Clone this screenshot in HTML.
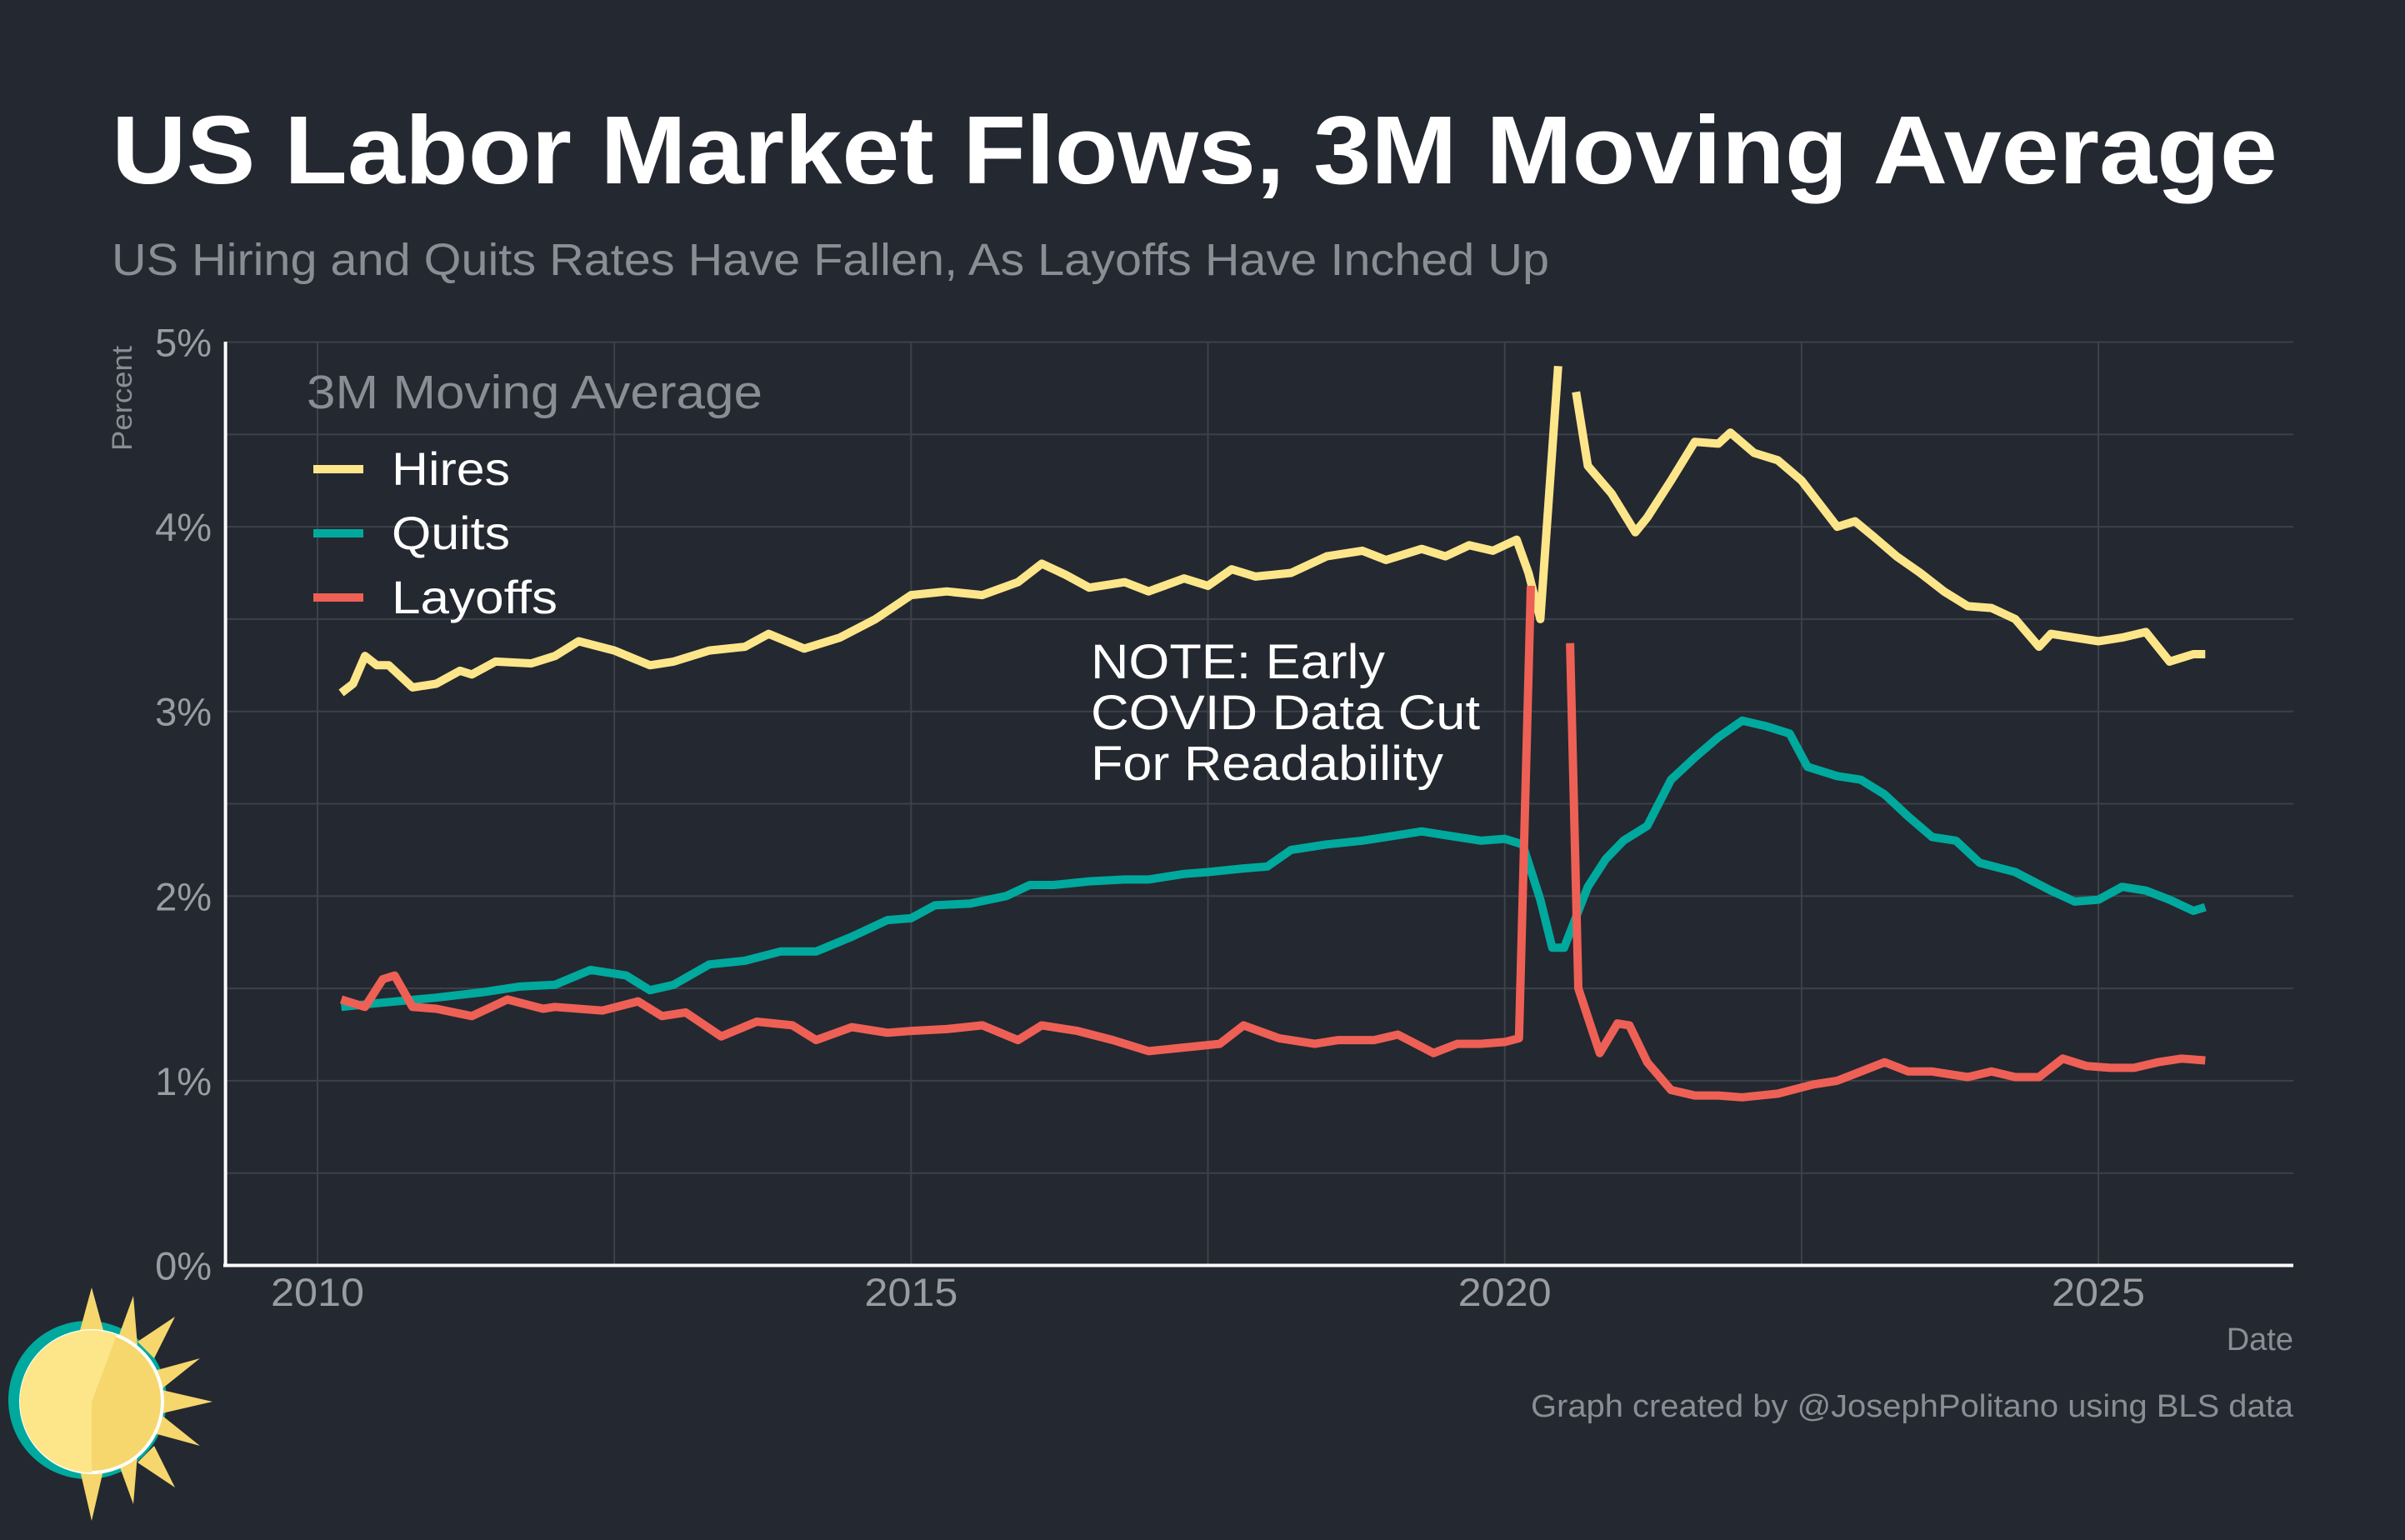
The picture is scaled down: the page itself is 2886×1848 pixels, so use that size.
<!DOCTYPE html>
<html><head><meta charset="utf-8">
<style>
html,body{margin:0;padding:0;background:#242830;}
body{width:2886px;height:1843px;overflow:hidden;font-family:"Liberation Sans",sans-serif;}
</style></head>
<body>
<svg id="chart" width="2886" height="1843" viewBox="0 0 2886 1843" xmlns="http://www.w3.org/2000/svg" font-family="Liberation Sans, sans-serif">
<rect width="2886" height="1843" fill="#242830"/>
<text x="134" y="220" font-size="116" font-weight="bold" fill="#ffffff" textLength="2599" lengthAdjust="spacingAndGlyphs">US Labor Market Flows, 3M Moving Average</text>
<text x="134" y="330" font-size="54" fill="#8a8d94" textLength="1725" lengthAdjust="spacingAndGlyphs">US Hiring and Quits Rates Have Fallen, As Layoffs Have Inched Up</text>
<g id="grid"></g>
<g id="ticks"></g>
<g id="series"></g>
<line x1="270.6" y1="410" x2="270.6" y2="1520" stroke="#ffffff" stroke-width="4"/>
<line x1="268" y1="1518.5" x2="2752" y2="1518.5" stroke="#ffffff" stroke-width="4"/>
<text transform="translate(158,478) rotate(-90)" text-anchor="middle" font-size="34" fill="#8a8d94" textLength="126" lengthAdjust="spacingAndGlyphs">Percent</text>
<text x="2752" y="1620" text-anchor="end" font-size="38" fill="#8a8d94">Date</text>
<text x="2752" y="1700" text-anchor="end" font-size="38" fill="#8a8d94" textLength="915" lengthAdjust="spacingAndGlyphs">Graph created by @JosephPolitano using BLS data</text>
<g>
<text x="368" y="490" font-size="57" fill="#8a8d94" textLength="547" lengthAdjust="spacingAndGlyphs">3M Moving Average</text>
<line x1="376" y1="563" x2="436" y2="563" stroke="#fde68a" stroke-width="10"/>
<text x="470" y="582" font-size="56" fill="#ffffff" textLength="142" lengthAdjust="spacingAndGlyphs">Hires</text>
<line x1="376" y1="640" x2="436" y2="640" stroke="#00a99d" stroke-width="10"/>
<text x="470" y="659" font-size="56" fill="#ffffff" textLength="142" lengthAdjust="spacingAndGlyphs">Quits</text>
<line x1="376" y1="717" x2="436" y2="717" stroke="#ee6055" stroke-width="10"/>
<text x="470" y="736" font-size="56" fill="#ffffff" textLength="199" lengthAdjust="spacingAndGlyphs">Layoffs</text>
</g>
<g font-size="58" fill="#ffffff">
<text x="1309" y="814" textLength="353" lengthAdjust="spacingAndGlyphs">NOTE: Early</text>
<text x="1309" y="875" textLength="467" lengthAdjust="spacingAndGlyphs">COVID Data Cut</text>
<text x="1309" y="936" textLength="423" lengthAdjust="spacingAndGlyphs">For Readability</text>
</g>
<g>
<circle cx="105" cy="1680" r="95" fill="#00a99d"/>
<g fill="#f5d76e">
<polygon points="110,1545 125,1600 95,1600"/>
<polygon points="110,1825 125,1760 95,1760"/>
<polygon points="255,1682 190,1667 190,1697"/>
<polygon points="210,1580 165,1610 185,1630"/>
<polygon points="210,1785 165,1755 185,1735"/>
<polygon points="160,1555 140,1610 165,1615"/>
<polygon points="160,1805 140,1750 165,1745"/>
<polygon points="240,1630 185,1645 190,1670"/>
<polygon points="240,1735 185,1720 190,1695"/>
</g>
<circle cx="110" cy="1682" r="85" fill="#f5d76e" stroke="#ffffff" stroke-width="4"/>
<path d="M110,1682 L140,1602 A85,85 0 0,0 35,1640 Z" fill="#fde68a"/>
<path d="M110,1682 L35,1640 A85,85 0 0,0 110,1767 Z" fill="#fde68a"/>
</g>
</svg>
<script>
const yTicks = [0,1,2,3,4,5];
const yTickLabels = ["0%","1%","2%","3%","4%","5%"];
const xTicks = [2010,2015,2020,2025];
const xTickLabels = ["2010","2015","2020","2025"];
const hiresDates = [2010.2,2010.3,2010.4,2010.5,2010.6,2010.8,2011.0,2011.2,2011.3,2011.5,2011.8,2012.0,2012.2,2012.5,2012.8,2013.0,2013.3,2013.6,2013.8,2014.1,2014.4,2014.7,2015.0,2015.3,2015.6,2015.9,2016.1,2016.3,2016.5,2016.8,2017.0,2017.3,2017.5,2017.7,2017.9,2018.2,2018.5,2018.8,2019.0,2019.3,2019.5,2019.7,2019.9,2020.1,2020.2,2020.3,2020.45,2020.52,2020.6,2020.7,2020.9,2021.1,2021.2,2021.4,2021.6,2021.8,2021.9,2022.1,2022.3,2022.5,2022.8,2022.95,2023.1,2023.3,2023.5,2023.7,2023.9,2024.1,2024.3,2024.5,2024.6,2024.8,2025.0,2025.2,2025.4,2025.6,2025.8,2025.9];
const hiresValues = [3.1,3.15,3.3,3.25,3.25,3.13,3.15,3.22,3.2,3.27,3.26,3.3,3.38,3.33,3.25,3.27,3.33,3.35,3.42,3.34,3.4,3.5,3.63,3.65,3.63,3.7,3.8,3.74,3.67,3.7,3.65,3.72,3.68,3.77,3.73,3.75,3.84,3.87,3.82,3.88,3.84,3.9,3.87,3.93,3.75,3.5,4.87,null,4.73,4.33,4.18,3.97,4.05,4.25,4.46,4.45,4.51,4.4,4.36,4.25,4.0,4.03,3.95,3.84,3.75,3.65,3.57,3.56,3.5,3.35,3.42,3.4,3.38,3.4,3.43,3.27,3.31,3.31];
const quitsDates = [2010.2,2010.5,2011.0,2011.4,2011.7,2012.0,2012.3,2012.6,2012.8,2013.0,2013.3,2013.6,2013.9,2014.2,2014.5,2014.8,2015.0,2015.2,2015.5,2015.8,2016.0,2016.2,2016.5,2016.8,2017.0,2017.3,2017.5,2017.8,2018.0,2018.2,2018.5,2018.8,2019.0,2019.3,2019.5,2019.8,2020.0,2020.15,2020.3,2020.4,2020.5,2020.7,2020.85,2021.0,2021.2,2021.4,2021.6,2021.8,2022.0,2022.2,2022.4,2022.55,2022.8,2023.0,2023.2,2023.4,2023.6,2023.8,2024.0,2024.3,2024.6,2024.8,2025.0,2025.2,2025.4,2025.6,2025.8,2025.9];
const quitsValues = [1.4,1.42,1.45,1.48,1.51,1.52,1.6,1.57,1.49,1.52,1.63,1.65,1.7,1.7,1.78,1.87,1.88,1.95,1.96,2.0,2.06,2.06,2.08,2.09,2.09,2.12,2.13,2.15,2.16,2.25,2.28,2.3,2.32,2.35,2.33,2.3,2.31,2.28,1.98,1.72,1.72,2.05,2.2,2.3,2.38,2.63,2.75,2.86,2.95,2.92,2.88,2.7,2.65,2.63,2.55,2.43,2.32,2.3,2.18,2.13,2.03,1.97,1.98,2.05,2.03,1.98,1.92,1.94];
const layoffsDates = [2010.2,2010.4,2010.55,2010.65,2010.8,2011.0,2011.3,2011.6,2011.9,2012.0,2012.4,2012.7,2012.9,2013.1,2013.4,2013.7,2014.0,2014.2,2014.5,2014.8,2015.0,2015.3,2015.6,2015.9,2016.1,2016.4,2016.7,2017.0,2017.3,2017.6,2017.8,2018.1,2018.4,2018.6,2018.9,2019.1,2019.4,2019.6,2019.8,2020.0,2020.12,2020.22,2020.4,2020.55,2020.62,2020.8,2020.95,2021.05,2021.2,2021.4,2021.6,2021.8,2022.0,2022.3,2022.6,2022.8,2023.0,2023.2,2023.4,2023.6,2023.9,2024.1,2024.3,2024.5,2024.7,2024.9,2025.1,2025.3,2025.5,2025.7,2025.9];
const layoffsValues = [1.44,1.4,1.55,1.57,1.4,1.39,1.35,1.44,1.39,1.4,1.38,1.43,1.35,1.37,1.24,1.32,1.3,1.22,1.29,1.26,1.27,1.28,1.3,1.22,1.3,1.27,1.22,1.16,1.18,1.2,1.3,1.23,1.2,1.22,1.22,1.25,1.15,1.2,1.2,1.21,1.23,3.68,null,3.37,1.5,1.15,1.31,1.3,1.1,0.95,0.92,0.92,0.91,0.93,0.98,1.0,1.05,1.1,1.05,1.05,1.02,1.05,1.02,1.02,1.12,1.08,1.07,1.07,1.1,1.12,1.11];

const X0 = 381, XPY = 142.47, Y0 = 1518.5, YPU = 221.6;
const xScale = d => X0 + (d - 2010) * XPY;
const yScale = v => Y0 - v * YPU;
const NS = "http://www.w3.org/2000/svg";
const grid = document.getElementById('grid');
const ticks = document.getElementById('ticks');
for (let v = 0.5; v <= 5.01; v += 0.5) {
  const l = document.createElementNS(NS, 'line');
  l.setAttribute('x1', 270); l.setAttribute('x2', 2752);
  l.setAttribute('y1', yScale(v)); l.setAttribute('y2', yScale(v));
  l.setAttribute('stroke', '#3d4149'); l.setAttribute('stroke-width', 2);
  
  
  grid.appendChild(l);
}
for (let d = 2010; d <= 2026; d += 2.5) {
  const l = document.createElementNS(NS, 'line');
  l.setAttribute('x1', xScale(d)); l.setAttribute('x2', xScale(d));
  l.setAttribute('y1', 410); l.setAttribute('y2', 1518);
  l.setAttribute('stroke', '#3d4149'); l.setAttribute('stroke-width', 2);
  
  
  grid.appendChild(l);
}
yTicks.forEach((v, i) => {
  const t = document.createElementNS(NS, 'text');
  t.setAttribute('x', 254); t.setAttribute('y', yScale(v) + 17);
  t.setAttribute('text-anchor', 'end'); t.setAttribute('font-size', 47); t.setAttribute('fill', '#9a9ca2');
  t.textContent = yTickLabels[i];
  
  
  ticks.appendChild(t);
});
xTicks.forEach((d, i) => {
  const t = document.createElementNS(NS, 'text');
  t.setAttribute('x', xScale(d)); t.setAttribute('y', 1567);
  t.setAttribute('text-anchor', 'middle'); t.setAttribute('font-size', 47); t.setAttribute('fill', '#9a9ca2');
  t.setAttribute('textLength', 112); t.setAttribute('lengthAdjust', 'spacingAndGlyphs');
  t.textContent = xTickLabels[i];
  
  
  ticks.appendChild(t);
});
function buildPath(dates, vals) {
  let d = '', pen = false;
  dates.forEach((x, i) => {
    const v = vals[i];
    if (v === null) { pen = false; return; }
    d += (pen ? 'L' : 'M') + xScale(x).toFixed(1) + ',' + yScale(v).toFixed(1);
    pen = true;
  });
  return d;
}
const series = document.getElementById('series');
[[hiresDates, hiresValues, '#fde68a', 'hires-line'], [quitsDates, quitsValues, '#00a99d', 'quits-line'], [layoffsDates, layoffsValues, '#ee6055', 'layoffs-line']].forEach(s => {
  const p = document.createElementNS(NS, 'path');
  p.setAttribute('d', buildPath(s[0], s[1]));
  p.setAttribute('fill', 'none'); p.setAttribute('stroke', s[2]);
  p.setAttribute('stroke-width', 10); p.setAttribute('stroke-linejoin', 'round');
  
  
  series.appendChild(p);
});
</script>
</body></html>
